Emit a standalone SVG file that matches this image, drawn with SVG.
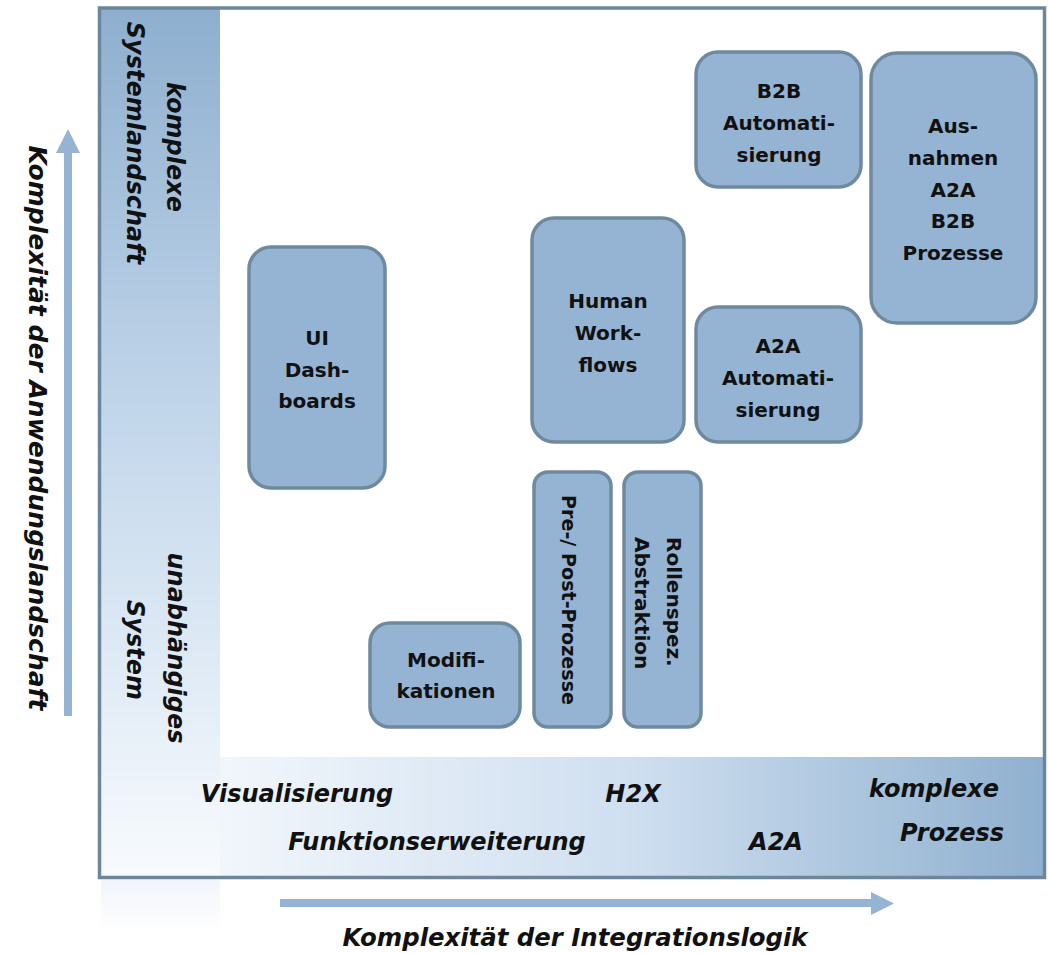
<svg xmlns="http://www.w3.org/2000/svg" width="1048" height="953" viewBox="0 0 1048 953">
  <defs>
    <linearGradient id="colGrad" x1="0" y1="0" x2="0" y2="1">
      <stop offset="0" stop-color="#8eafcf"/>
      <stop offset="0.5" stop-color="#c6d9ec"/>
      <stop offset="1" stop-color="#f8fbfe"/>
    </linearGradient>
    <linearGradient id="bandGrad" x1="0" y1="0" x2="1" y2="0">
      <stop offset="0" stop-color="#f1f6fb"/>
      <stop offset="0.5" stop-color="#cfdff0"/>
      <stop offset="1" stop-color="#8fb0cf"/>
    </linearGradient>
    <linearGradient id="reflGrad" x1="0" y1="0" x2="0" y2="1">
      <stop offset="0" stop-color="#f1f5fb"/>
      <stop offset="1" stop-color="#ffffff"/>
    </linearGradient>
  </defs>
  <style>
    .node rect { fill: #95b4d3; stroke: #6f899f; stroke-width: 3.5; }
    .node text { font-family: "DejaVu Sans", "Liberation Sans", sans-serif; font-weight: bold; font-size: 20px; fill: #111; text-anchor: middle; }
    .lbl { font-family: "DejaVu Sans", "Liberation Sans", sans-serif; font-weight: bold; font-style: italic; font-size: 24px; fill: #111; }
    .mid { text-anchor: middle; }
    .axis { fill: #95b4d3; }
  </style>

  <!-- background panels -->
  <rect x="0" y="0" width="1048" height="953" fill="#ffffff"/>
  <rect x="101" y="880" width="119" height="52" fill="url(#reflGrad)"/>
  <rect x="101" y="9" width="119" height="868" fill="url(#colGrad)"/>
  <rect x="220" y="757" width="824" height="120" fill="url(#bandGrad)"/>
  <rect id="frame" x="99.5" y="8" width="945" height="869.5" fill="none" stroke="#6c869b" stroke-width="3.5"/>

  <!-- axis labels in panels -->
  <g id="col-labels">
    <text class="lbl mid" transform="translate(167,147) rotate(90)">komplexe</text>
    <text class="lbl mid" transform="translate(127,143) rotate(90)">Systemlandschaft</text>
    <text class="lbl mid" transform="translate(168,648) rotate(90)">unabhängiges</text>
    <text class="lbl mid" transform="translate(127,650) rotate(90)">System</text>
  </g>
  <g id="band-labels">
    <text class="lbl mid" x="297" y="802">Visualisierung</text>
    <text class="lbl mid" x="633" y="802">H2X</text>
    <text class="lbl mid" x="934" y="797">komplexe</text>
    <text class="lbl mid" x="952" y="841">Prozess</text>
    <text class="lbl mid" x="437" y="850">Funktionserweiterung</text>
    <text class="lbl mid" x="776" y="850">A2A</text>
  </g>

  <!-- axes -->
  <g id="axes">
    <polygon class="axis" points="64,716 64,153 56,153 68,129 80,153 72,153 72,716"/>
    <polygon class="axis" points="280,899 871,899 871,892 894,903.5 871,915 871,907 280,907"/>
    <text class="lbl mid" font-size="25" textLength="565" lengthAdjust="spacingAndGlyphs" transform="translate(29,428) rotate(90)">Komplexität der Anwendungslandschaft</text>
    <text class="lbl mid" x="575" y="946" textLength="465" lengthAdjust="spacingAndGlyphs">Komplexität der Integrationslogik</text>
  </g>

  <!-- nodes -->
  <g id="n-ui" class="node">
    <rect x="249" y="247" width="136" height="241" rx="22"/>
    <text x="317" y="345">UI</text>
    <text x="317" y="377">Dash-</text>
    <text x="317" y="408">boards</text>
  </g>
  <g id="n-human" class="node">
    <rect x="532" y="218" width="152" height="224" rx="22"/>
    <text x="608" y="308">Human</text>
    <text x="608" y="340">Work-</text>
    <text x="608" y="372">flows</text>
  </g>
  <g id="n-b2b" class="node">
    <rect x="696" y="52" width="165" height="135" rx="22"/>
    <text x="779" y="98">B2B</text>
    <text x="779" y="130">Automati-</text>
    <text x="779" y="162">sierung</text>
  </g>
  <g id="n-ausnahmen" class="node">
    <rect x="871" y="53" width="165" height="270" rx="26"/>
    <text x="953" y="133">Aus-</text>
    <text x="953" y="165">nahmen</text>
    <text x="953" y="197">A2A</text>
    <text x="953" y="228">B2B</text>
    <text x="953" y="260">Prozesse</text>
  </g>
  <g id="n-a2a" class="node">
    <rect x="696" y="307" width="165" height="135" rx="22"/>
    <text x="778" y="353">A2A</text>
    <text x="778" y="385">Automati-</text>
    <text x="778" y="417">sierung</text>
  </g>
  <g id="n-modifikationen" class="node">
    <rect x="370" y="623" width="150" height="104" rx="20"/>
    <text x="446" y="667">Modifi-</text>
    <text x="446" y="698">kationen</text>
  </g>
  <g id="n-prepost" class="node">
    <rect x="534" y="472" width="77" height="255" rx="14"/>
    <text transform="translate(562,600) rotate(90)" textLength="210" lengthAdjust="spacingAndGlyphs">Pre-/ Post-Prozesse</text>
  </g>
  <g id="n-rollen" class="node">
    <rect x="624" y="472" width="77" height="255" rx="14"/>
    <text style="text-anchor:start" transform="translate(667,537) rotate(90)">Rollenspez.</text>
    <text style="text-anchor:start" transform="translate(635,537) rotate(90)">Abstraktion</text>
  </g>
</svg>
